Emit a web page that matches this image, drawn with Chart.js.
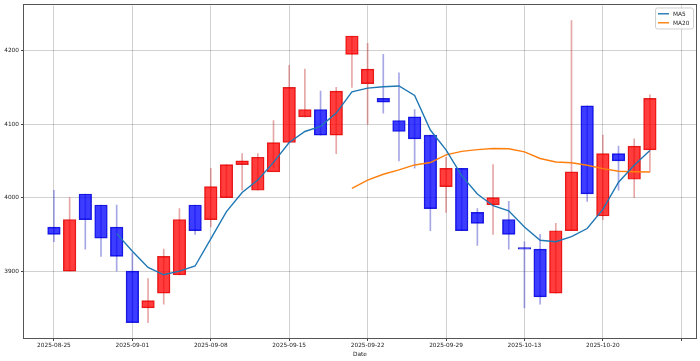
<!DOCTYPE html>
<html>
<head>
<meta charset="utf-8">
<script src="https://cdn.jsdelivr.net/npm/chart.js@4.4.0/dist/chart.umd.min.js"></script>
<style>
html,body{margin:0;padding:0;background:#fff;}
#wrap{width:700px;height:361px;position:relative;}
</style>
</head>
<body>
<div id="wrap"><canvas id="c" width="700" height="361"></canvas></div>
<script>
// ---- data ----
const dates = ['2025-08-25','2025-08-26','2025-08-27','2025-08-28','2025-08-29',
  '2025-09-01','2025-09-02','2025-09-03','2025-09-04','2025-09-05',
  '2025-09-08','2025-09-09','2025-09-10','2025-09-11','2025-09-12',
  '2025-09-15','2025-09-16','2025-09-17','2025-09-18','2025-09-19',
  '2025-09-22','2025-09-23','2025-09-24','2025-09-25','2025-09-26',
  '2025-09-29','2025-09-30','2025-10-08','2025-10-09','2025-10-10',
  '2025-10-13','2025-10-14','2025-10-15','2025-10-16','2025-10-17',
  '2025-10-20','2025-10-21','2025-10-22','2025-10-23'];
const opens  = [3960,3900,4005,3990,3960, 3900,3850,3870,3895,3990, 3970,4000,4045,4010,4035,
  4075,4110,4120,4085,4195, 4155,4135,4105,4110,4085, 4015,4040,3980,3990,3970,
  3930,3930,3870,3955,4125, 3975,4060,4025,4065];
const highs  = [4010,4000,4005,3990,3990, 3925,3890,3930,3985,3990, 4040,4045,4060,4060,4105,
  4180,4175,4145,4150,4220, 4210,4195,4170,4120,4085, 4055,4040,3985,4045,3995,
  3940,3950,3965,4241,4125, 4085,4070,4080,4140];
const lows   = [3940,3900,3930,3920,3900, 3830,3830,3855,3895,3950, 3960,4000,4010,4010,4040,
  4075,4110,4085,4060,4150, 4100,4115,4050,4040,3955, 3980,3955,3935,3950,3930,
  3850,3855,3870,3955,3995, 3970,4010,4000,4035];
const closes = [3950,3970,3970,3945,3920, 3830,3860,3920,3970,3955, 4015,4045,4050,4055,4075,
  4150,4120,4085,4145,4220, 4175,4130,4090,4080,3985, 4040,3955,3965,4000,3950,
  3930,3865,3955,4035,4005, 4060,4050,4070,4135];
const ma5  = [null,null,null,null,3951, 3927,3905,3895,3900,3907, 3944,3981,4007,4024,4048,
  4075,4090,4097,4115,4144, 4149,4151,4152,4139,4092, 4065,4030,4005,3989,3982,
  3960,3942,3940,3947,3958, 3984,4021,4044,4064];
const ma20 = [null,null,null,null,null, null,null,null,null,null, null,null,null,null,null,
  null,null,null,null,4012.5, 4023.8,4031.8,4037.8,4044.5,4047.8, 4058.3,4063.0,4065.3,4066.8,4066.5,
  4062.3,4053.3,4048.5,4047.5,4044.0, 4039.5,4036.0,4035.3,4034.8];
const xTickIndex = [0,5,10,15,20,25,30,35,40];
const yTickValues = [3900,4000,4100,4200];

// ---- styles ----
const UP_FILL = 'rgba(255,0,0,0.76)', UP_EDGE = 'rgba(215,0,0,0.85)', UP_WICK = 'rgba(200,60,60,0.45)';
const DN_FILL = 'rgba(0,0,255,0.76)', DN_EDGE = 'rgba(0,0,205,0.85)', DN_WICK = 'rgba(60,60,200,0.45)';
const FONT = {family: "'DejaVu Sans', sans-serif", size: 5.8};
const TXT = '#222';
const GRID = 'rgba(0,0,0,0.18)';

const isUp = closes.map((c,i) => c > opens[i]);

const bodyData = opens.map((o,i) => ({x: i, y: [o, closes[i]]}));
const wickData = lows.map((l,i) => ({x: i, y: [l, highs[i]]}));
const ma5Data = ma5.map((v,i) => ({x: i, y: v})).filter(p => p.y !== null);
const ma20Data = ma20.map((v,i) => ({x: i, y: v})).filter(p => p.y !== null);

const framePlugin = {
  id: 'frame',
  beforeDatasetsDraw(chart) {
    const {ctx, chartArea: a} = chart;
    ctx.save();
    ctx.strokeStyle = '#555';
    ctx.lineWidth = 1;
    ctx.strokeRect(Math.round(a.left) - 0.5, Math.round(a.top) - 0.5,
      Math.round(a.right - a.left) + 1, Math.round(a.bottom - a.top) + 1);
    ctx.restore();
  }
};

const legendPlugin = {
  id: 'mplLegend',
  afterDraw(chart) {
    const {ctx, chartArea: a} = chart;
    const items = chart.data.datasets.filter(d => d.type === 'line');
    const x1 = a.right - 3, x0 = x1 - 38, y0 = a.top + 2, rowH = 9;
    const h = items.length * rowH + 3;
    ctx.save();
    ctx.beginPath();
    if (ctx.roundRect) ctx.roundRect(x0 + 0.5, y0 + 0.5, x1 - x0, h, 2); else ctx.rect(x0 + 0.5, y0 + 0.5, x1 - x0, h);
    ctx.fillStyle = 'rgba(255,255,255,0.85)';
    ctx.fill();
    ctx.strokeStyle = '#d0d0d0';
    ctx.lineWidth = 1;
    ctx.stroke();
    ctx.font = FONT.size + 'px ' + FONT.family;
    ctx.textBaseline = 'middle';
    ctx.textAlign = 'left';
    items.forEach((d, k) => {
      const y = y0 + 6.3 + k * rowH;
      ctx.beginPath();
      ctx.moveTo(x0 + 3, y);
      ctx.lineTo(x0 + 14, y);
      ctx.strokeStyle = d.borderColor;
      ctx.lineWidth = 1.4;
      ctx.stroke();
      ctx.fillStyle = TXT;
      ctx.fillText(d.label, x0 + 18, y + 0.3);
    });
    ctx.restore();
  }
};

new Chart(document.getElementById('c'), {
  data: {
    datasets: [
      {type: 'line', label: 'MA5', data: ma5Data, borderColor: '#1f77b4', borderWidth: 1.4,
       pointRadius: 0, tension: 0, order: 0},
      {type: 'line', label: 'MA20', data: ma20Data, borderColor: '#ff7f0e', borderWidth: 1.4,
       pointRadius: 0, tension: 0, order: 0},
      {type: 'bar', label: 'body', data: bodyData, grouped: false, barThickness: 12.6, minBarLength: 1.5,
       backgroundColor: isUp.map(u => u ? UP_FILL : DN_FILL),
       borderColor: isUp.map(u => u ? UP_EDGE : DN_EDGE),
       borderWidth: 0.8, borderSkipped: false, order: 1},
      {type: 'bar', label: 'wick', data: wickData, grouped: false, barThickness: 1,
       backgroundColor: isUp.map(u => u ? UP_WICK : DN_WICK),
       borderWidth: 0, order: 2}
    ]
  },
  options: {
    responsive: false,
    animation: false,
    layout: {padding: {left: 0, right: 4, top: 4, bottom: 0}},
    plugins: {legend: {display: false}, tooltip: {enabled: false}},
    scales: {
      x: {
        type: 'linear', min: -1.91, max: 40.94, offset: false,
        afterBuildTicks: s => { s.ticks = xTickIndex.map(v => ({value: v})); },
        afterFit: s => { s.height = 23; },
        ticks: {autoSkip: false, maxRotation: 0, font: FONT, color: TXT, padding: 1,
          callback: v => dates[v] !== undefined ? dates[v] : ''},
        grid: {offset: false, color: GRID, lineWidth: 1, drawTicks: true, tickLength: 3, tickColor: '#444'},
        border: {display: false},
        title: {display: true, text: 'Date', font: FONT, color: TXT, padding: {top: 0, bottom: 3}}
      },
      y: {
        type: 'linear', min: 3809, max: 4261.5,
        afterBuildTicks: s => { s.ticks = yTickValues.map(v => ({value: v})); },
        afterFit: s => { s.width = 24; },
        ticks: {font: FONT, color: TXT, padding: 2, callback: v => String(v)},
        grid: {color: GRID, lineWidth: 1, drawTicks: true, tickLength: 3, tickColor: '#444'},
        border: {display: false}
      }
    }
  },
  plugins: [framePlugin, legendPlugin]
});
</script>
</body>
</html>
